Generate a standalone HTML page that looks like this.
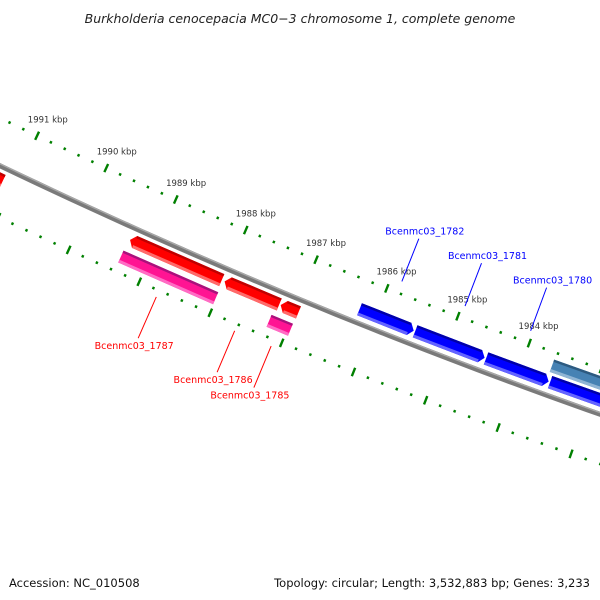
<!DOCTYPE html>
<html><head><meta charset="utf-8"><style>
html,body{margin:0;padding:0;background:#fff;width:600px;height:600px;overflow:hidden}
svg{display:block}
text{font-family:"DejaVu Sans","Liberation Sans",sans-serif}
</style></head><body>
<svg id="map" width="600" height="600" viewBox="0 0 600 600" xmlns="http://www.w3.org/2000/svg">
<text x="300" y="23" text-anchor="middle" font-size="12.5" font-style="italic" fill="#222">Burkholderia cenocepacia MC0−3 chromosome 1, complete genome</text>
<g id="ticks"></g>
<g id="backbone"></g>
<g id="genes"></g>
<g id="labels"></g>
<text x="9" y="587" font-size="11.5" fill="#111">Accession: NC_010508</text>
<text x="590" y="587" text-anchor="end" font-size="11.5" fill="#111">Topology: circular; Length: 3,532,883 bp; Genes: 3,233</text>
</svg>
<script>
// gene data (kbp)
var geneNames = ["gene-left-edge","Bcenmc03_1787","Bcenmc03_1786","Bcenmc03_1785","pink-a","pink-b","Bcenmc03_1782","Bcenmc03_1781","Bcenmc03_1780","blue-right","steel-right"];
var geneStart = [1991.15,1988.03,1987.22,1986.95,1988.01,1986.96,1985.47,1984.48,1983.59,1982.5,1982.5];
var geneEnd   = [1992.6,1989.33,1987.99,1987.20,1989.35,1987.26,1986.23,1985.45,1984.46,1983.57,1983.62];
var geneTrack = ["red","red","red","red","pink","pink","blue","blue","blue","blue","steel"];
var geneLabels = ["Bcenmc03_1787","Bcenmc03_1786","Bcenmc03_1785","Bcenmc03_1782","Bcenmc03_1781","Bcenmc03_1780"];
var labelPos = [1988.72,1987.62,1987.11,1985.85,1984.96,1984.04];
var labelSide = ["out","out","out","in","in","in"];
var tickStart = 1982.6, tickEnd = 1992.6, tickStep = 0.2;

var NS="http://www.w3.org/2000/svg";
var CX=2578, CY=-5209, TH0=112.84, DPK=0.739, PREF=1987.5;
function P(p,r){var t=(TH0+(p-PREF)*DPK)*Math.PI/180;return [CX+r*Math.cos(t),CY+r*Math.sin(t)];}
function mk(tag,attrs,parent){var e=document.createElementNS(NS,tag);for(var k in attrs)e.setAttribute(k,attrs[k]);parent.appendChild(e);return e;}
function pts(a){return a.map(function(q){return q[0].toFixed(2)+","+q[1].toFixed(2);}).join(" ");}

// ticks
var tg=document.getElementById('ticks');
var rings=[5918,6008];
var n=Math.round((tickEnd-tickStart)/tickStep);
for(var ri=0;ri<rings.length;ri++){
 for(var i=0;i<=n;i++){
  var p=tickStart+i*tickStep; var major=Math.abs(p-Math.round(p))<0.01;
  var r=rings[ri]; var h=major?4.5:1.3;
  var a=P(p,r-h), b=P(p,r+h);
  var ln=mk('line',{x1:a[0],y1:a[1],x2:b[0],y2:b[1],stroke:'#008000','stroke-width':2.4},tg);
  
  
  if(major && ri===0){
   var c=P(p,r-18);
   if(c[0]<575 && c[0]>10){
    var t=mk('text',{x:c[0]+3,y:c[1]+3,'text-anchor':'middle','font-size':8.5,fill:'#333'},tg);
    t.textContent=Math.round(p)+" kbp";
    
    
   }
  }
 }
}
// backbone
var bg=document.getElementById('backbone');
var bp=[],bp2=[];
for(var p=1981.5;p<=1993.5;p+=0.25){bp.push(P(p,5961));bp2.push(P(p,5959.3));}
var bl=mk('polyline',{points:pts(bp),fill:'none',stroke:'#7a7a7a','stroke-width':5},bg);


mk('polyline',{points:pts(bp2),fill:'none',stroke:'#a8a8a8','stroke-width':1.4},bg);

// genes
var styles={
 red:{r0:5967,r1:5980,main:'#ff0000',dark:'#c00000',light:'#ff6a6a',dir:1,arrow:true},
 pink:{r0:5986,r1:5999,main:'#ff1493',dark:'#a8127c',light:'#ff6cc4',dir:1,arrow:false},
 blue:{r0:5941,r1:5954,main:'#0000ff',dark:'#0000a8',light:'#6464ff',dir:-1,arrow:true},
 steel:{r0:5925,r1:5938,main:'#4682b4',dark:'#2d5a80',light:'#8fb4d4',dir:-1,arrow:false}
};
var gg=document.getElementById('genes');
for(var i=0;i<geneStart.length;i++){
 var s=styles[geneTrack[i]], lo=geneStart[i], hi=geneEnd[i], hd=0.065;
 var g=mk('g',{},gg);
 
 
 var poly, a0, a1;
 if(s.arrow && s.dir===1){a0=lo;a1=hi-hd;poly=[P(a1,s.r0),P(lo,s.r0),P(lo,s.r1),P(a1,s.r1),P(hi,(s.r0+s.r1)/2)];}
 else if(s.arrow){a0=lo+hd;a1=hi;poly=[P(hi,s.r0),P(a0,s.r0),P(lo,(s.r0+s.r1)/2),P(a0,s.r1),P(hi,s.r1)];}
 else {a0=lo;a1=hi;poly=[P(hi,s.r0),P(lo,s.r0),P(lo,s.r1),P(hi,s.r1)];}
 mk('polygon',{points:pts(poly),fill:s.main},g);
 var d0=P(a0,s.r0+1.2),d1=P(a1,s.r0+1.2);
 mk('line',{x1:d0[0],y1:d0[1],x2:d1[0],y2:d1[1],stroke:s.dark,'stroke-width':2.4},g);
 var l0=P(a0,s.r1-1.5),l1=P(a1,s.r1-1.5);
 mk('line',{x1:l0[0],y1:l0[1],x2:l1[0],y2:l1[1],stroke:s.light,'stroke-width':3},g);
}
// labels
var lg=document.getElementById('labels');
for(var i=0;i<geneLabels.length;i++){
 var out=labelSide[i]==='out';
 var col=out?'#ff0000':'#0000ff';
 var a=out?P(labelPos[i],6015):P(labelPos[i],5906);
 var b=out?P(labelPos[i],6060):P(labelPos[i],5860);
 var ln=mk('line',{x1:a[0],y1:a[1],x2:b[0],y2:b[1],stroke:col,'stroke-width':1},lg);
 
 
 var tx=out?b[0]-4:b[0]+6, ty=out?b[1]+11:b[1]-4;
 var t=mk('text',{x:tx,y:ty,'text-anchor':'middle','font-size':9.5,fill:col},lg);
 t.textContent=geneLabels[i];
 
 
}
</script>
</body></html>
